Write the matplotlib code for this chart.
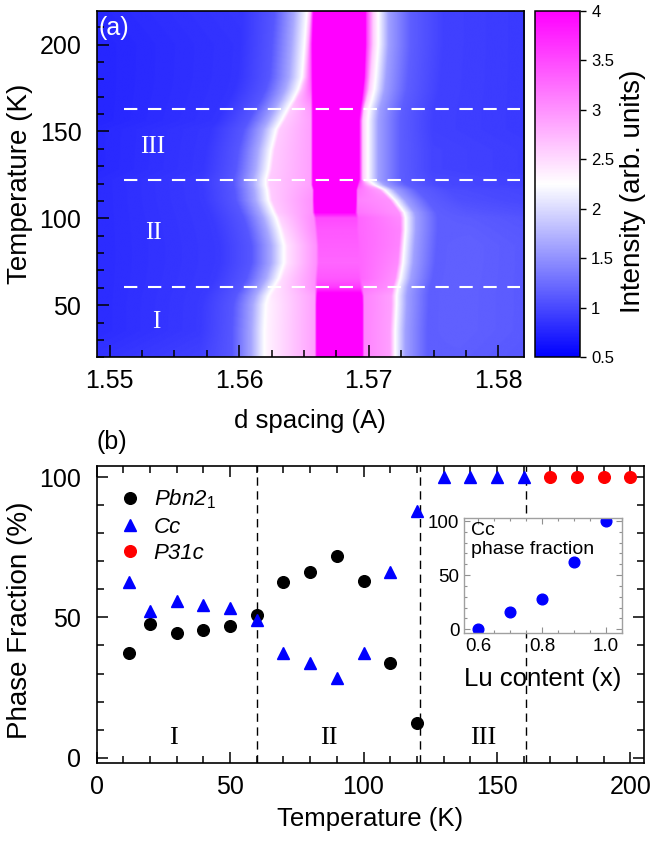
import numpy as np
import matplotlib
matplotlib.use('Agg')
import matplotlib.pyplot as plt
from matplotlib.colors import LinearSegmentedColormap
from matplotlib.ticker import MultipleLocator

plt.rcParams['font.family'] = ['Liberation Sans', 'DejaVu Sans']
plt.rcParams['mathtext.fontset'] = 'custom'
plt.rcParams['mathtext.rm'] = 'Liberation Sans'
plt.rcParams['mathtext.it'] = 'Liberation Sans:italic'

# ---- (a) peak map: contour readings per temperature row ----
T_rows      = [20, 35, 50, 55, 60, 65, 74, 84, 93, 100, 103, 110, 116, 119, 122,
               128, 139, 151, 156, 163, 168, 174, 181, 200, 220]
left_edge   = [1.5619, 1.5619, 1.5620, 1.5622, 1.5626, 1.5630, 1.5634, 1.5634, 1.5631, 1.5628,
               1.5626, 1.5622, 1.5621, 1.5620, 1.5620, 1.5622, 1.5624, 1.5628, 1.5632, 1.5637,
               1.5641, 1.5645, 1.5648, 1.5650, 1.5652]
core_left   = [1.5660, 1.5660, 1.5660, 1.5660, 1.5660, 1.5660, 1.5661, 1.5661, 1.5660, 1.5659,
               1.5658, 1.5658, 1.5658, 1.5657, 1.5657, 1.5657, 1.5657, 1.5657, 1.5657, 1.5657,
               1.5657, 1.5657, 1.5657, 1.5657, 1.5658]
core_right  = [1.5694, 1.5694, 1.5694, 1.5694, 1.5693, 1.5692, 1.5691, 1.5691, 1.5690, 1.5690,
               1.5689, 1.5689, 1.5689, 1.5690, 1.5691, 1.5691, 1.5691, 1.5691, 1.5691, 1.5692,
               1.5693, 1.5694, 1.5695, 1.5696, 1.5696]
right_edge  = [1.5720, 1.5720, 1.5721, 1.5721, 1.5722, 1.5724, 1.5726, 1.5727, 1.5728, 1.5728,
               1.5727, 1.5720, 1.5712, 1.5704, 1.5699, 1.5699, 1.5699, 1.5699, 1.5699, 1.5700,
               1.5702, 1.5704, 1.5705, 1.5707, 1.5707]
core_level  = [4.5, 4.5, 4.5, 4.2, 3.6, 3.4, 3.3, 3.35, 3.4, 3.5,
               4.0, 4.5, 4.5, 4.5, 4.5, 4.5, 4.5, 4.5, 4.5, 4.5,
               4.5, 4.5, 4.5, 4.5, 4.5]
shoulder_l1 = [2.35, 2.35, 2.35, 2.4, 2.45, 2.5, 2.45, 2.45, 2.5, 2.55,
               2.6, 2.6, 2.6, 2.6, 2.6, 2.6, 2.6, 2.6, 2.6, 2.6,
               2.7, 2.7, 2.75, 2.8, 2.8]
shoulder_l2 = [2.9, 2.9, 2.9, 2.9, 3.0, 3.0, 3.0, 3.0, 3.05, 3.05,
               3.0, 3.0, 2.95, 2.9, 2.9, 2.9, 2.9, 2.9, 2.9, 2.95,
               3.1, 3.3, 3.4, 3.5, 3.5]
shoulder_r1 = [3.1, 3.1, 3.1, 3.1, 3.2, 3.3, 3.3, 3.3, 3.3, 3.3,
               3.2, 3.1, 3.2, 3.4, 3.6, 3.6, 3.6, 3.6, 3.6, 3.6,
               3.6, 3.6, 3.6, 3.6, 3.6]
shoulder_r2 = [2.9, 2.9, 2.9, 2.9, 3.0, 3.0, 3.05, 3.1, 3.1, 3.05,
               3.0, 3.0, 2.9, 2.7, 2.6, 2.6, 2.6, 2.6, 2.6, 2.6,
               2.6, 2.6, 2.6, 2.6, 2.6]
bg_left     = [0.85, 0.8, 0.8, 0.8, 0.8, 0.8, 0.8, 0.8, 0.8, 0.8,
               0.8, 0.8, 0.8, 0.8, 0.8, 0.78, 0.78, 0.78, 0.76, 0.76,
               0.76, 0.76, 0.76, 0.76, 0.78]
bg_right    = [1.1, 1.12, 1.12, 1.12, 1.12, 1.12, 1.12, 1.12, 1.1, 1.08,
               1.05, 1.0, 0.98, 0.95, 0.95, 0.92, 0.92, 0.9, 0.9, 0.9,
               0.9, 0.9, 0.9, 0.9, 0.9]

dashed_T = [163, 122, 60.5]
region_a = [('III', 1.5533, 141), ('II', 1.5534, 91.4), ('I', 1.5536, 40.4)]

# ---- (b) phase fractions ----
temp_pbn = [12, 20, 30, 40, 50, 60, 70, 80, 90, 100, 110, 120]
frac_pbn = [37.2, 47.7, 44.4, 45.5, 47.0, 50.9, 62.8, 66.3, 72.0, 63.0, 33.9, 12.3]
temp_cc = [12, 20, 30, 40, 50, 60, 70, 80, 90, 100, 110, 120, 130, 140, 150, 160]
frac_cc = [62.8, 52.4, 56.0, 54.5, 53.3, 49.1, 37.4, 33.9, 28.3, 37.2, 66.3, 88.1,
           100, 100, 100, 100]
temp_p31c = [170, 180, 190, 200]
frac_p31c = [100, 100, 100, 100]
boundary_T = [60, 121, 161]
region_b = [('I', 28.6), ('II', 87.1), ('III', 144.9)]

# inset
lu_content = [0.6, 0.7, 0.8, 0.9, 1.0]
cc_fraction = [0, 16, 28, 62.5, 100]

# build the intensity map from the row readings
d_grid = np.linspace(1.549, 1.582, 900)
T_grid = np.linspace(20, 220, 401)
Z = np.zeros((len(T_grid), len(d_grid)))
for i, T in enumerate(T_grid):
    g = lambda arr: np.interp(T, T_rows, arr)
    lw, lc, rc, rw = g(left_edge), g(core_left), g(core_right), g(right_edge)
    bl, br = g(bg_left), g(bg_right)
    xp = [1.549, lw - 0.005, lw - 0.0025, lw - 0.001, lw, lw + 0.0003, lc - 0.0002, lc,
          rc, rc + 0.0002, rw - 0.0004, rw, rw + 0.0008, rw + 0.0025, rw + 0.005, 1.582]
    fp = [bl, bl + 0.1, 1.1, 1.65, 2.25, g(shoulder_l1), g(shoulder_l2), g(core_level),
          g(core_level), g(shoulder_r1), g(shoulder_r2), 2.25, 1.6, 1.15, br + 0.05, br]
    Z[i] = np.interp(d_grid, xp, fp)

cmap = LinearSegmentedColormap.from_list('bwm', [(0, '#0000ff'), (0.5, '#ffffff'), (1, '#ff00ff')])

fig = plt.figure(figsize=(6.51, 8.48), dpi=100)

# ---------- panel (a) ----------
ax1 = fig.add_axes([0.1485, 0.5787, 0.6567, 0.4087])
im = ax1.imshow(Z, extent=[1.549, 1.582, 20, 220], origin='lower', aspect='auto',
                cmap=cmap, vmin=0.5, vmax=4, interpolation='bilinear')
ax1.set_xlim(1.549, 1.582)
ax1.set_ylim(20, 219.5)
for T in dashed_T:
    ax1.plot([1.5511, 1.5817], [T, T], color='white', lw=1.5, linestyle=(0, (6.4, 5.1)))
for txt, d, T in region_a:
    ax1.text(d, T, txt, color='white', fontsize=18, family='Liberation Serif',
             ha='center', va='center')
ax1.text(0.004, 0.95, '(a)', color='white', fontsize=18, transform=ax1.transAxes,
         ha='left', va='center')
ax1.set_xticks([1.55, 1.56, 1.57, 1.58])
ax1.set_xticklabels(['1.55', '1.56', '1.57', '1.58'])
ax1.xaxis.set_minor_locator(MultipleLocator(0.0025))
ax1.yaxis.set_major_locator(MultipleLocator(50))
ax1.yaxis.set_minor_locator(MultipleLocator(10))
ax1.tick_params(which='both', direction='in', labelsize=18, width=1.1)
ax1.tick_params(which='major', length=8.5)
ax1.tick_params(which='minor', length=4.8)
ax1.tick_params(axis='x', which='major', pad=8.5)
ax1.tick_params(axis='y', which='major', pad=11)
for s in ax1.spines.values():
    s.set_linewidth(1.2)
ax1.set_xlabel('d spacing (A)', fontsize=18.5)
ax1.set_ylabel('Temperature (K)', fontsize=20)
ax1.xaxis.set_label_coords(0.5, -0.148)
ax1.yaxis.set_label_coords(-0.148, 0.5)

cax = fig.add_axes([0.8214, 0.5787, 0.0696, 0.4087])
cb = fig.colorbar(im, cax=cax, ticks=[0.5, 1, 1.5, 2, 2.5, 3, 3.5, 4])
cb.ax.set_yticklabels(['0.5', '1', '1.5', '2', '2.5', '3', '3.5', '4'])
cb.ax.tick_params(labelsize=12, length=4, width=1, pad=4)
cb.outline.set_linewidth(1.1)
cb.set_label('Intensity (arb. units)', fontsize=20)
cb.ax.yaxis.set_label_coords(1.88, 0.48)

# ---------- panel (b) ----------
ax2 = fig.add_axes([0.1485, 0.0999, 0.8403, 0.3506])
for T in boundary_T:
    ax2.axvline(T, color='black', lw=1.0, linestyle=(0, (6, 4)), zorder=1)
ax2.plot(temp_pbn, frac_pbn, 'o', color='black', ms=8.4, label='Pbn2$_1$', zorder=3)
ax2.plot(temp_cc, frac_cc, '^', color='#0000ff', ms=9, label='Cc', zorder=3)
ax2.plot(temp_p31c, frac_p31c, 'o', color='#ff0000', ms=8.4, label='P31c', zorder=3)
for txt, T in region_b:
    ax2.text(T, 7.0, txt, fontsize=19, family='Liberation Serif', ha='center', va='center')
ax2.set_xlim(0, 205)
ax2.set_ylim(-2, 104)
ax2.xaxis.set_major_locator(MultipleLocator(50))
ax2.xaxis.set_minor_locator(MultipleLocator(10))
ax2.yaxis.set_major_locator(MultipleLocator(50))
ax2.yaxis.set_minor_locator(MultipleLocator(10))
ax2.tick_params(which='both', direction='in', top=True, right=True, labelsize=18, width=1.1)
ax2.tick_params(which='major', length=8)
ax2.tick_params(which='minor', length=5)
ax2.tick_params(axis='x', which='major', pad=8.5)
ax2.tick_params(axis='y', which='major', pad=11)
for s in ax2.spines.values():
    s.set_linewidth(1.2)
ax2.set_xlabel('Temperature (K)', fontsize=18.5)
ax2.set_ylabel('Phase Fraction (%)', fontsize=20)
ax2.xaxis.set_label_coords(0.5, -0.148)
ax2.yaxis.set_label_coords(-0.116, 0.48)
ax2.legend(loc='upper left', bbox_to_anchor=(0.025, 0.958), frameon=False, numpoints=1,
           handlelength=1.0, handletextpad=0.55, labelspacing=0.25, borderaxespad=0,
           prop={'style': 'italic', 'size': 16})
fig.text(0.1485, 0.479, '(b)', fontsize=18, ha='left', va='center')

# inset
ins = fig.add_axes([0.7132, 0.2532, 0.2418, 0.1356])
ins.plot(lu_content, cc_fraction, 'o', color='#0000ff', ms=7.7)
ins.set_xlim(0.556, 1.05)
ins.set_ylim(-3.7, 102.5)
ins.set_xticks([0.6, 0.8, 1.0])
ins.set_xticklabels(['0.6', '0.8', '1.0'])
ins.xaxis.set_minor_locator(MultipleLocator(0.05))
ins.yaxis.set_major_locator(MultipleLocator(50))
ins.yaxis.set_minor_locator(MultipleLocator(10))
ins.tick_params(which='both', direction='in', top=True, right=True, labelsize=13.5,
                color='#909090', width=0.8)
ins.tick_params(which='major', length=4)
ins.tick_params(which='minor', length=2.5)
for s in ins.spines.values():
    s.set_color('#a0a0a0')
    s.set_linewidth(1.0)
ins.text(0.045, 0.97, 'Cc\nphase fraction', fontsize=14, transform=ins.transAxes,
         ha='left', va='top', linespacing=1.15)
ins.set_xlabel('Lu content (x)', fontsize=18.5)
ins.xaxis.set_label_coords(0.5, -0.29)

fig.savefig('out.png', dpi=100)
